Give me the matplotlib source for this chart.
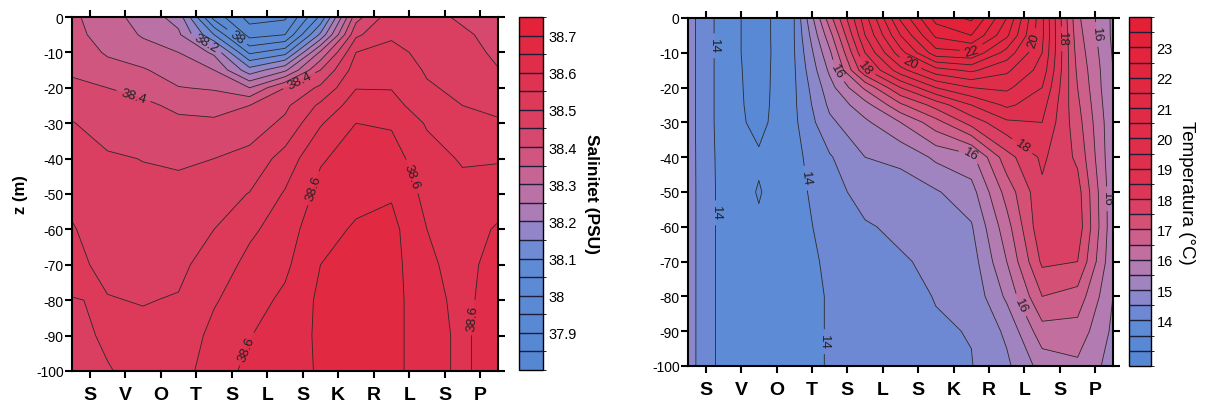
import numpy as np
import matplotlib
matplotlib.use("Agg")
import matplotlib.pyplot as plt
from matplotlib.colors import LinearSegmentedColormap, BoundaryNorm

plt.rcParams['font.family'] = ['Liberation Sans', 'DejaVu Sans']

##### data #####
stations = ['S', 'V', 'O', 'T', 'S', 'L', 'S', 'K', 'R', 'L', 'S', 'P']
station_pos = [1, 2, 3, 4, 5, 6, 7, 8, 9, 10, 11, 12]
# columns (midway between stations, plus both edges)
x_cols = [0.5, 1.5, 2.5, 3.5, 4.5, 5.5, 6.5, 7.5, 8.5, 9.5, 10.5, 11.5, 12.5]
depth = [0, -5, -10, -15, -20, -25, -30, -40, -50, -60, -70, -80, -90, -100]

salinity = [
    [38.36, 38.32, 38.28, 38.23, 37.98, 37.88, 37.89, 38.06, 38.38, 38.48, 38.47, 38.44, 38.42],
    [38.365, 38.33, 38.295, 38.26, 38.10, 37.93, 37.95, 38.16, 38.44, 38.495, 38.48, 38.46, 38.43],
    [38.375, 38.345, 38.32, 38.30, 38.24, 38.04, 38.08, 38.31, 38.50, 38.51, 38.49, 38.47, 38.44],
    [38.39, 38.365, 38.355, 38.325, 38.30, 38.17, 38.24, 38.40, 38.525, 38.53, 38.495, 38.48, 38.452],
    [38.415, 38.40, 38.385, 38.352, 38.345, 38.30, 38.40, 38.46, 38.548, 38.548, 38.505, 38.49, 38.47],
    [38.435, 38.415, 38.41, 38.39, 38.38, 38.40, 38.44, 38.51, 38.575, 38.565, 38.525, 38.50, 38.49],
    [38.452, 38.432, 38.425, 38.41, 38.41, 38.425, 38.46, 38.545, 38.60, 38.595, 38.545, 38.515, 38.505],
    [38.47, 38.455, 38.449, 38.445, 38.45, 38.465, 38.52, 38.595, 38.62, 38.62, 38.57, 38.545, 38.545],
    [38.49, 38.47, 38.46, 38.46, 38.478, 38.502, 38.555, 38.615, 38.638, 38.645, 38.585, 38.565, 38.58],
    [38.503, 38.48, 38.47, 38.475, 38.50, 38.54, 38.575, 38.635, 38.655, 38.665, 38.60, 38.58, 38.605],
    [38.51, 38.49, 38.485, 38.49, 38.52, 38.565, 38.59, 38.65, 38.665, 38.67, 38.605, 38.59, 38.612],
    [38.499, 38.502, 38.498, 38.503, 38.545, 38.58, 38.61, 38.66, 38.67, 38.672, 38.61, 38.592, 38.615],
    [38.49, 38.505, 38.51, 38.515, 38.565, 38.598, 38.625, 38.658, 38.67, 38.672, 38.61, 38.595, 38.615],
    [38.485, 38.498, 38.51, 38.525, 38.58, 38.61, 38.63, 38.655, 38.67, 38.672, 38.61, 38.595, 38.615],
]

temperature = [
    [14.7, 13.75, 13.25, 14.0, 16.8, 19.3, 21.6, 23.2, 23.6, 22.0, 19.6, 16.6, 15.4],
    [14.7, 13.75, 13.25, 14.0, 16.3, 19.0, 21.0, 22.6, 23.0, 21.6, 19.6, 16.7, 15.4],
    [14.7, 13.75, 13.25, 13.98, 15.9, 18.5, 20.3, 21.8, 21.9, 20.8, 19.5, 16.8, 15.45],
    [14.7, 13.75, 13.28, 13.95, 15.6, 17.9, 19.3, 20.3, 20.6, 20.1, 19.3, 16.9, 15.5],
    [14.7, 13.75, 13.30, 13.93, 15.3, 16.6, 18.0, 19.0, 19.5, 19.6, 19.0, 17.0, 15.5],
    [14.7, 13.75, 13.32, 13.92, 15.1, 15.8, 16.9, 17.7, 18.5, 19.1, 18.7, 17.1, 15.55],
    [14.7, 13.75, 13.36, 13.90, 14.9, 15.4, 16.0, 16.8, 17.7, 18.4, 18.5, 17.2, 15.6],
    [14.7, 13.78, 13.56, 13.85, 14.45, 15.0, 15.1, 15.6, 15.85, 17.3, 18.1, 17.4, 15.6],
    [14.7, 13.80, 13.47, 13.82, 14.3, 14.7, 14.8, 14.95, 15.3, 16.7, 17.9, 17.7, 15.65],
    [14.7, 13.80, 13.56, 13.78, 14.2, 14.45, 14.6, 14.8, 14.95, 16.3, 17.9, 17.8, 15.65],
    [14.7, 13.80, 13.60, 13.75, 14.1, 14.3, 14.45, 14.6, 14.75, 16.0, 17.6, 17.5, 15.6],
    [14.7, 13.80, 13.62, 13.72, 14.05, 14.2, 14.35, 14.52, 14.62, 15.6, 17.0, 16.8, 15.5],
    [14.7, 13.80, 13.62, 13.72, 14.05, 14.15, 14.3, 14.45, 14.52, 15.1, 16.3, 16.3, 15.4],
    [14.7, 13.80, 13.62, 13.72, 14.05, 14.15, 14.3, 14.42, 14.48, 14.9, 15.7, 15.9, 15.3],
]

sal_ticks = [37.9, 38.0, 38.1, 38.2, 38.3, 38.4, 38.5, 38.6, 38.7]
temp_ticks = [14, 15, 16, 17, 18, 19, 20, 21, 22, 23]

##### style #####
sal_levels = [round(37.8 + 0.05 * i, 2) for i in range(20)]
temp_levels = [12.5 + 0.5 * i for i in range(24)]

def make_cmap(vmin, vmax, nodes):
    return LinearSegmentedColormap.from_list(
        'c', [((v - vmin) / (vmax - vmin), np.array(c) / 255.0) for v, c in nodes])

sal_cmap = make_cmap(37.8, 38.75, [
    (37.8, (85, 135, 210)), (38.1, (97, 140, 214)), (38.15, (135, 137, 207)),
    (38.2, (165, 128, 188)), (38.25, (180, 118, 172)), (38.3, (192, 108, 157)),
    (38.35, (203, 95, 140)), (38.4, (212, 78, 118)), (38.5, (219, 61, 95)),
    (38.6, (223, 50, 80)), (38.75, (228, 35, 58))])
temp_cmap = make_cmap(12.5, 24.0, [
    (12.5, (85, 135, 210)), (13.75, (95, 140, 215)), (14.25, (122, 135, 208)),
    (14.75, (148, 135, 200)), (15.25, (167, 130, 188)), (15.75, (182, 120, 173)),
    (16.25, (197, 108, 155)), (16.75, (207, 92, 135)), (17.25, (214, 78, 115)),
    (17.75, (219, 62, 97)), (18.5, (222, 50, 80)), (24.0, (228, 32, 55))])

line_col = '#2a2a2a'

fig = plt.figure(figsize=(12.17, 4.06), dpi=100)
W, H = 1217.0, 406.0
ax1 = fig.add_axes([72 / W, 1 - 372 / H, 426 / W, 354 / H])
cax1 = fig.add_axes([519 / W, 1 - 371 / H, 24 / W, 353 / H])
ax2 = fig.add_axes([688 / W, 1 - 367 / H, 425 / W, 348 / H])
cax2 = fig.add_axes([1129 / W, 1 - 367 / H, 22 / W, 349 / H])

def panel(ax, cax, data, levels, cmap, ticks, fmt, lab_levels, lab_pos, cblabel, cbweight, cbsize):
    norm = BoundaryNorm(levels, cmap.N)
    cf = ax.contourf(x_cols, depth, data, levels=levels, cmap=cmap, norm=norm)
    plain = [l for l in levels if l not in lab_levels]
    ax.contour(x_cols, depth, data, levels=plain, colors=line_col, linewidths=0.6)
    cs = ax.contour(x_cols, depth, data, levels=lab_levels, colors=line_col, linewidths=0.6)
    ax.clabel(cs, manual=lab_pos, fmt=fmt, fontsize=9.5, colors='#222222', inline=True)
    ax.set_xlim(0.5, 12.5)
    ax.set_ylim(-100, 0)
    ax.set_xticks(station_pos)
    ax.set_xticklabels(stations, fontsize=14, fontweight='bold')
    ax.set_yticks(range(-100, 1, 10))
    ax.set_yticklabels([str(v) for v in range(-100, 1, 10)], fontsize=10)
    ax.tick_params(axis='both', direction='out', length=5, width=1.5, top=True, right=True,
                   labeltop=False, labelright=False)
    ax.tick_params(axis='x', pad=6)
    ax.tick_params(axis='y', pad=1)
    for sp in ax.spines.values():
        sp.set_linewidth(1.5)
    cb = fig.colorbar(cf, cax=cax, drawedges=True, ticks=ticks)
    cb.dividers.set_color('#1e1e3a')
    cb.dividers.set_linewidth(1.0)
    cb.outline.set_linewidth(1.0)
    cb.ax.tick_params(length=0, labelsize=10.5, pad=4)
    cb.ax.set_yticklabels([fmt % t for t in ticks])
    cb.set_label(cblabel, rotation=270, fontsize=cbsize, fontweight=cbweight, labelpad=16)
    return cb

panel(ax1, cax1, salinity, sal_levels, sal_cmap, sal_ticks, '%g',
      [38.0, 38.2, 38.4, 38.6],
      [(5.32, -3.4), (4.3, -7), (2.27, -21), (6.9, -18), (7.1, -47.7), (10.1, -45),
       (5.23, -93), (11.9, -85)],
      'Salinitet (PSU)', 'bold', 12.5)
ax1.set_ylabel('z (m)', fontsize=12, fontweight='bold', labelpad=6)

panel(ax2, cax2, temperature, temp_levels, temp_cmap, temp_ticks, '%g',
      [14.0, 16.0, 18.0, 20.0, 22.0],
      [(1.09, -8), (1.26, -56), (3.83, -46), (4.45, -93), (4.79, -14.7), (5.56, -13.8),
       (6.77, -13), (8.52, -9.5), (10.02, -5.5), (10.95, -6), (11.8, -4.9),
       (8.52, -37.6), (9.82, -38.5), (11.8, -52), (10.08, -81.6)],
      'Temperatura (°C)', 'normal', 13.5)

fig.savefig('out.png', dpi=100)
